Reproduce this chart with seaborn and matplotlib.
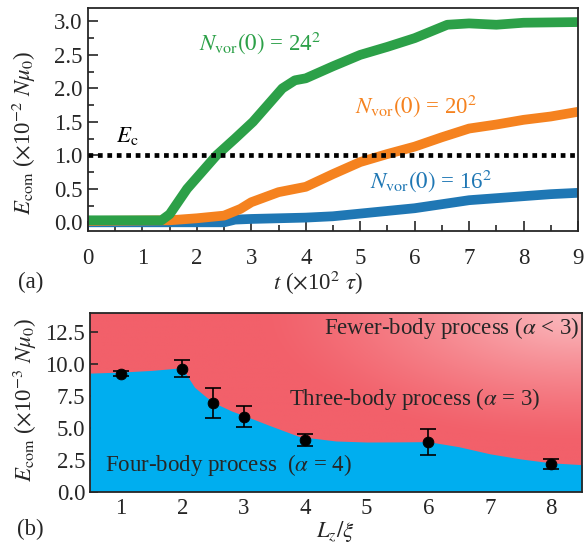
import numpy as np
import pandas as pd
import seaborn as sns
import matplotlib.pyplot as plt
from matplotlib.colors import to_rgb

# ---- data ----
# panel (a): E_com(t) for three initial vortex numbers
t_24 = [0, 1.35, 1.5, 1.82, 2.36, 2.7, 3.03, 3.3, 3.57, 3.8, 4.0, 4.5, 5.0, 5.5, 6.0, 6.3, 6.6, 7.0, 7.5, 8.0, 9.0]
e_24 = [0.03, 0.03, 0.12, 0.5, 1.0, 1.25, 1.5, 1.75, 2.0, 2.12, 2.15, 2.33, 2.5, 2.62, 2.75, 2.85, 2.95, 2.97, 2.95, 2.98, 2.99]
t_20 = [0, 1.5, 2.0, 2.5, 2.8, 3.0, 3.5, 4.0, 4.5, 5.0, 5.5, 6.0, 6.5, 7.0, 7.5, 8.0, 8.5, 9.0]
e_20 = [0.02, 0.03, 0.06, 0.1, 0.2, 0.3, 0.45, 0.53, 0.72, 0.9, 1.02, 1.13, 1.27, 1.4, 1.46, 1.53, 1.58, 1.65]
t_16 = [0, 2.5, 2.7, 3.0, 4.0, 4.5, 5.0, 5.5, 6.0, 6.5, 7.0, 7.5, 8.0, 8.5, 9.0]
e_16 = [0.0, 0.0, 0.04, 0.05, 0.07, 0.09, 0.13, 0.17, 0.21, 0.27, 0.33, 0.36, 0.39, 0.42, 0.44]
E_c = 1.0

# panel (b): critical E_com vs L_z/xi
lz = [1, 2, 2.5, 3, 4, 6, 8]
ecrit = [9.2, 9.6, 6.95, 5.85, 4.05, 3.87, 2.15]
ecrit_err = [0.2, 0.65, 1.17, 0.83, 0.47, 1.0, 0.37]

# boundary between four-body and three-body regions
bnd_x = [0.5, 1.0, 1.5, 2.0, 2.1, 2.2, 2.4, 2.6, 2.8, 3.0, 3.4, 3.9, 4.5, 5.0, 5.5, 6.0, 6.5, 7.0, 7.5, 8.0, 8.5]
bnd_y = [9.26, 9.34, 9.47, 9.68, 8.9, 8.15, 7.35, 6.75, 6.3, 5.95, 5.2, 4.3, 3.95, 3.87, 3.88, 3.9, 3.5, 2.95, 2.55, 2.24, 2.1]

sns.set_theme(style='ticks')
plt.rcParams['font.family'] = ['Liberation Serif', 'DejaVu Serif']
plt.rcParams['mathtext.fontset'] = 'stix'
plt.rcParams['axes.linewidth'] = 1.3

FS = 16.5
green, orange, blue = '#2ca048', '#f5821f', '#1f77b4'

fig = plt.figure(figsize=(5.84, 5.46), dpi=100)
ax1 = fig.add_axes([88 / 584, 1 - 231 / 546, 490 / 584, 223 / 546])
ax2 = fig.add_axes([90 / 584, 1 - 491.5 / 546, 492 / 584, 179 / 546])

# ---- panel (a) ----
for t, e, c in [(t_16, e_16, blue), (t_20, e_20, orange), (t_24, e_24, green)]:
    df = pd.DataFrame({'t': t, 'E': e})
    sns.lineplot(data=df, x='t', y='E', color=c, lw=7, ax=ax1,
                 solid_capstyle='butt', solid_joinstyle='round')

ax1.axhline(E_c, color='black', lw=3.4, ls=(0, (1, 1)), dash_capstyle='butt', zorder=5)
ax1.text(0.51, 1.2, r'$E_{\rm c}$', fontsize=FS, color='black')
ax1.text(2.04, 2.58, r'$N_{\rm vor}(0)$ = 24$^2$', fontsize=FS, color=green)
ax1.text(4.91, 1.63, r'$N_{\rm vor}(0)$ = 20$^2$', fontsize=FS, color=orange)
ax1.text(5.18, 0.51, r'$N_{\rm vor}(0)$ = 16$^2$', fontsize=FS, color=blue)

ax1.set_xlim(0, 9)
ax1.set_ylim(-0.13, 3.2)
ax1.set_xticks(range(0, 10))
ax1.set_xticks(np.arange(0.5, 9, 1), minor=True)
ax1.set_yticks([0, 0.5, 1.0, 1.5, 2.0, 2.5, 3.0])
ax1.set_yticks(np.arange(0.25, 3.0, 0.5), minor=True)
ax1.set_yticklabels(['0.0', '0.5', '1.0', '1.5', '2.0', '2.5', '3.0'])
ax1.tick_params(which='both', direction='in', labelsize=FS, width=1.2)
ax1.tick_params(axis='x', which='major', length=7, pad=12)
ax1.tick_params(axis='x', which='minor', length=4)
ax1.tick_params(axis='y', which='major', length=7, pad=4)
ax1.tick_params(axis='y', which='minor', length=4)
ax1.set_xlabel(r'$t$ ($\times$10$^2$ $\tau$)', fontsize=FS, va='center')
ax1.set_ylabel(r'$E_{\rm com}$ ($\times$10$^{-2}$ $N\mu_0$)', fontsize=FS, va='center')
ax1.xaxis.set_label_coords(0.47, -0.233)
ax1.yaxis.set_label_coords(-0.13, 0.44)

# ---- panel (b) ----
red = np.array(to_rgb('#f2606a'))
pink = np.array(to_rgb('#fbbcc0'))
gx, gy = np.meshgrid(np.linspace(0, 1, 200), np.linspace(0, 1, 200))
d = np.sqrt(((1 - gx) * 1.0) ** 2 + ((1 - gy) * 0.9) ** 2)
w = np.clip(1 - d / 0.65, 0, 1) ** 1.3
grad = red[None, None, :] * (1 - w[..., None]) + pink[None, None, :] * w[..., None]
ax2.imshow(grad, extent=[0, 1, 0, 1], origin='lower', transform=ax2.transAxes,
           aspect='auto', zorder=0)

ax2.fill_between(bnd_x, 0, bnd_y, color='#00aeef', lw=0, zorder=1)
ax2.errorbar(lz, ecrit, yerr=ecrit_err, fmt='none', ecolor='black',
             elinewidth=1.2, capsize=5.5, capthick=1.2, zorder=3)
sns.scatterplot(x=lz, y=ecrit, color='black', s=60, edgecolor='black',
                ax=ax2, zorder=4)

ax2.text(8.45, 12.3, r'Fewer-body process ($\alpha$ < 3)', fontsize=FS, ha='right')
ax2.text(3.73, 6.76, r'Three-body process ($\alpha$ = 3)', fontsize=FS)
ax2.text(0.74, 1.6, r'Four-body process  ($\alpha$ = 4)', fontsize=FS)

ax2.set_xlim(0.5, 8.5)
ax2.set_ylim(0, 14)
ax2.set_xticks(range(1, 9))
ax2.set_yticks([0, 2.5, 5, 7.5, 10, 12.5])
ax2.set_yticklabels(['0.0', '2.5', '5.0', '7.5', '10.0', '12.5'])
ax2.tick_params(direction='in', labelsize=FS, width=1.2, length=6)
ax2.tick_params(axis='x', pad=5)
ax2.set_xlabel(r'$L_z/\xi$', fontsize=FS, va='center')
ax2.set_ylabel(r'$E_{\rm com}$ ($\times$10$^{-3}$ $N\mu_0$)', fontsize=FS, va='center')
ax2.xaxis.set_label_coords(0.498, -0.225)
ax2.yaxis.set_label_coords(-0.132, 0.51)

fig.text(31 / 584, 1 - 282 / 546, '(a)', fontsize=FS, ha='center', va='center')
fig.text(30 / 584, 1 - 529 / 546, '(b)', fontsize=FS, ha='center', va='center')

fig.savefig('out.png', dpi=100)
